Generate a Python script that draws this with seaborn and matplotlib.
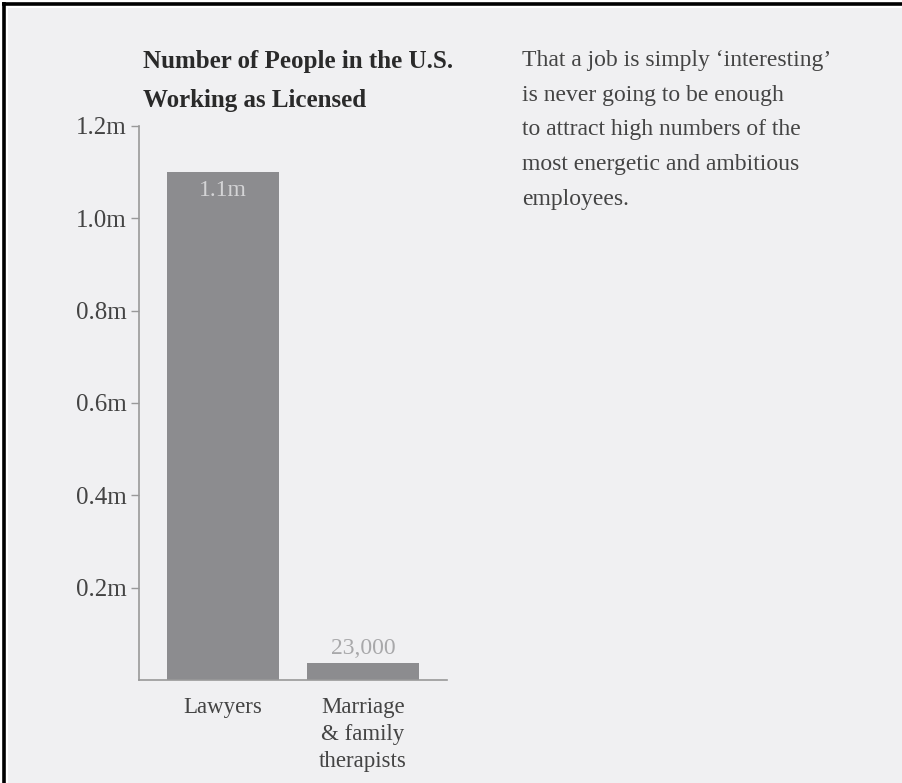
import pandas as pd
import numpy as np
import matplotlib
matplotlib.use('Agg')
import matplotlib.pyplot as plt
from matplotlib.lines import Line2D
from matplotlib.patches import Rectangle
import seaborn as sns

categories = ['Lawyers', 'Marriage\n& family\ntherapists']
values = [1_100_000, 36_000]
bar_labels = ['1.1m', '23,000']
yticks = [200_000, 400_000, 600_000, 800_000, 1_000_000, 1_200_000]
ytick_labels = ['0.2m', '0.4m', '0.6m', '0.8m', '1.0m', '1.2m']
title = 'Number of People in the U.S.\nWorking as Licensed'
note = ("That a job is simply \u2018interesting\u2019\n"
        "is never going to be enough\n"
        "to attract high numbers of the\n"
        "most energetic and ambitious\n"
        "employees.")

df = pd.DataFrame({'job': categories, 'people': values})

sns.set_style('white')
plt.rcParams['font.family'] = ['Liberation Serif', 'DejaVu Serif']

bg = '#f0f0f2'
fig = plt.figure(figsize=(9.02, 7.83), dpi=100, facecolor='white')
W, H = 902, 783
# grey panel inside a white gap and a black frame
fig.add_artist(Rectangle((8 / W, 0), 1, 1 - 8 / H, transform=fig.transFigure,
                         facecolor=bg, edgecolor='none', zorder=0))
fig.add_artist(Line2D([3.5 / W, 3.5 / W], [0, 1 - 2 / H], transform=fig.transFigure,
                      color='black', lw=2.6, solid_capstyle='butt'))
fig.add_artist(Line2D([2 / W, 1], [1 - 3.5 / H, 1 - 3.5 / H], transform=fig.transFigure,
                      color='black', lw=2.6, solid_capstyle='butt'))

ax = fig.add_axes([139 / W, 1 - 680 / H, (447 - 139) / W, (680 - 126) / H])
ax.set_facecolor('none')
sns.barplot(data=df, x='job', y='people', color='#8c8c8f', saturation=1,
            width=0.8, linewidth=0, ax=ax)

ax.set_xlim(-0.6, 1.6)
ax.set_ylim(0, 1_200_000)
ax.set_yticks(yticks)
ax.set_yticklabels(ytick_labels, fontsize=18, color='#444444')
ax.tick_params(axis='y', length=6, width=1, color='#999999', pad=3, left=True)
ax.tick_params(axis='x', length=0, pad=12, labelsize=16.5, labelcolor='#444444')
ax.set_xlabel('')
ax.set_ylabel('')
for side in ['top', 'right']:
    ax.spines[side].set_visible(False)
for side in ['left', 'bottom']:
    ax.spines[side].set_color('#999999')
    ax.spines[side].set_linewidth(1.2)
for lab in ax.get_xticklabels():
    lab.set_linespacing(1.38)
    lab.set_verticalalignment('top')

# value labels
ax.text(0, values[0] - 16_000, bar_labels[0], ha='center', va='top',
        fontsize=17, color='#d4d4d6')
ax.text(1, values[1] + 10_000, bar_labels[1], ha='center', va='bottom',
        fontsize=17, color='#a8a8aa')

fig.text(143 / W, 1 - 81 / H, title, ha='left', va='center', fontsize=18,
         fontweight='bold', color='#2a2a2a', linespacing=1.94)
fig.text(522 / W, 1 - 130 / H, note, ha='left', va='center', fontsize=17,
         color='#444444', linespacing=1.85)

plt.savefig('out.png', dpi=100, facecolor=fig.get_facecolor())
